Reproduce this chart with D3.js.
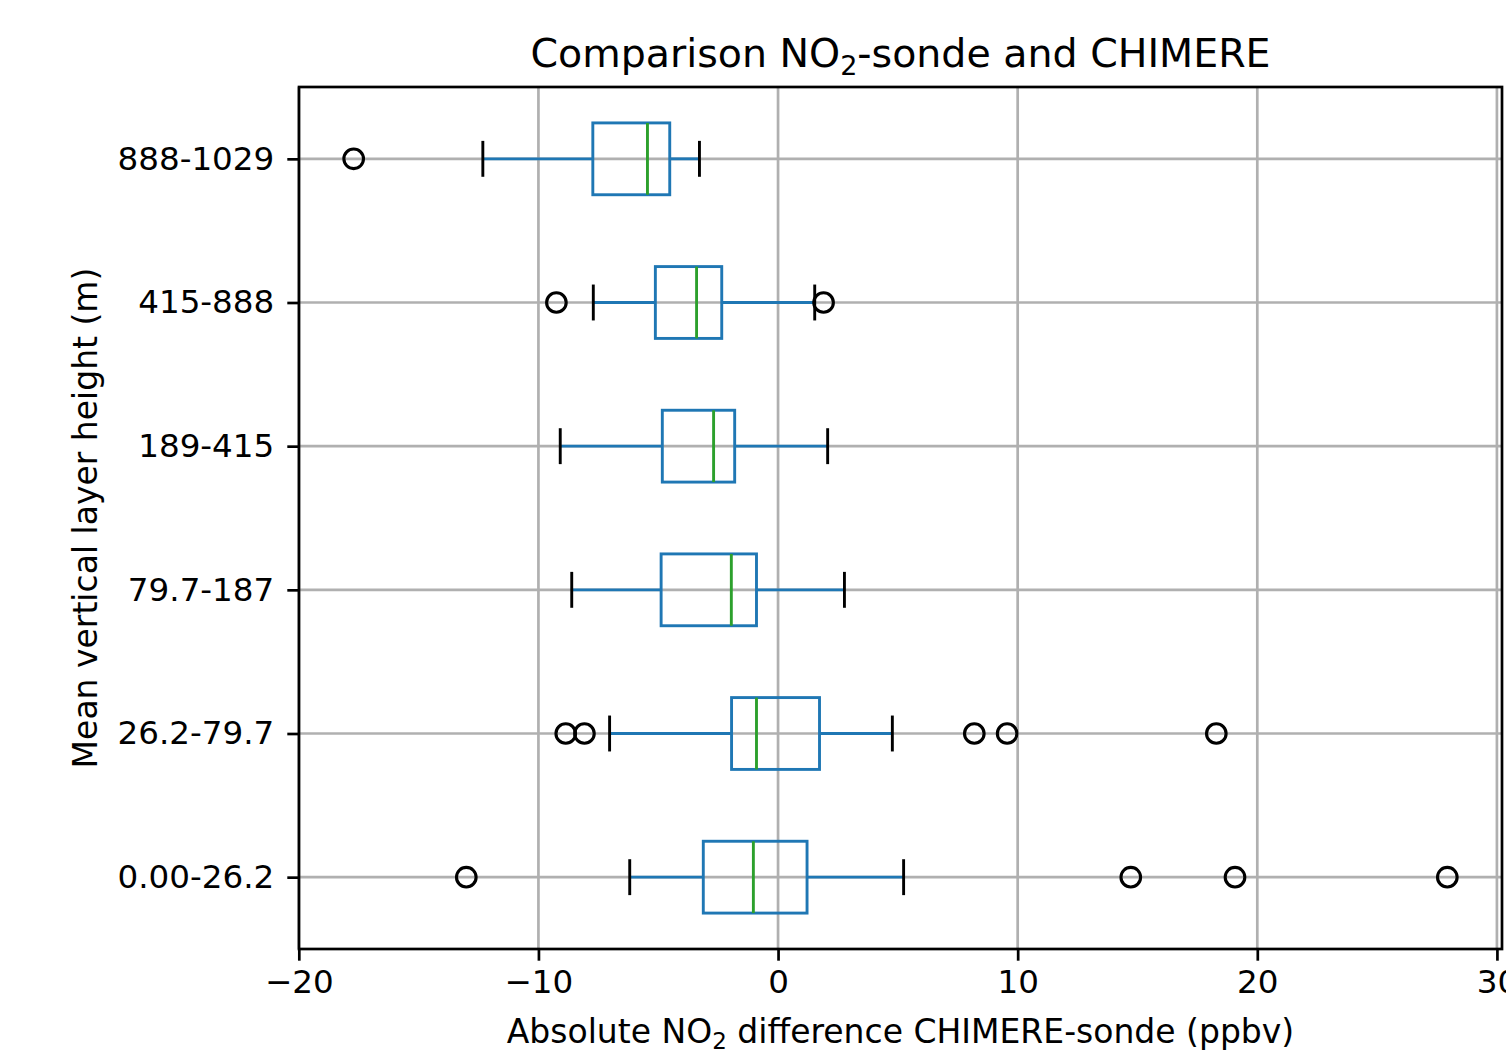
<!DOCTYPE html>
<html>
<head>
<meta charset="utf-8">
<script src="https://cdn.jsdelivr.net/npm/d3@7"></script>
<style>
  body { margin: 0; background: #fff; }
  svg { display: block; font-family: "DejaVu Sans", sans-serif; }
</style>
</head>
<body>
<div class="chart"></div>
<script>
// layer categories, bottom to top
const categories = ["0.00-26.2", "26.2-79.7", "79.7-187", "189-415", "415-888", "888-1029"];
// box statistics (ppbv)
const whiskerLow = [-6.19, -7.03, -8.61, -9.09, -7.71, -12.32];
const q1 = [-3.12, -1.94, -4.88, -4.83, -5.12, -7.73];
const median = [-1.03, -0.9, -1.95, -2.69, -3.4, -5.45];
const q3 = [1.21, 1.73, -0.9, -1.81, -2.35, -4.52];
const whiskerHigh = [5.24, 4.77, 2.77, 2.07, 1.53, -3.28];
const outliers = [
  [-13.01, 14.72, 19.07, 27.93],
  [-8.86, -8.08, 8.19, 9.56, 18.29],
  [],
  [],
  [-9.25, 1.9],
  [-17.71]
];
const xTicks = [-20, -10, 0, 10, 20, 30];

const W = 1506, H = 1052;
const margin = { top: 87, right: 4, bottom: 103, left: 299 };

const svg = d3.select(".chart")
  .append("svg")
  .attr("width", W)
  .attr("height", H);

// x limits like matplotlib: data range plus 5% each side
const allVals = whiskerLow.concat(whiskerHigh, outliers.flat());
const lo = d3.min(allVals), hi = d3.max(allVals);
const pad = (hi - lo) * 0.05;

const x = d3.scaleLinear().domain([lo - pad, hi + pad]).range([margin.left, W - margin.right]);
const y = d3.scaleLinear().domain([0.5, categories.length + 0.5]).range([H - margin.bottom, margin.top]);

const gridColor = "#b0b0b0";
const lw = 2.9;

// ---- grid ----
const grid = svg.append("g");
grid.selectAll(".gx")
  .data(xTicks.filter((d) => x(d) <= W - margin.right))
  .enter().append("line")
  .attr("x1", (d) => x(d)).attr("x2", (d) => x(d))
  .attr("y1", margin.top).attr("y2", H - margin.bottom)
  .attr("stroke", gridColor).attr("stroke-width", 2.7);
grid.selectAll(".gy")
  .data(categories)
  .enter().append("line")
  .attr("x1", margin.left).attr("x2", W - margin.right)
  .attr("y1", (d, i) => y(i + 1)).attr("y2", (d, i) => y(i + 1))
  .attr("stroke", gridColor).attr("stroke-width", 2.7);

// ---- boxes ----
const boxH = y(0) - y(0.5);   // widths 0.5
const capH = y(0) - y(0.25);
const blue = "#1f77b4", green = "#2ca02c";
const g = svg.append("g");

categories.forEach((c, i) => {
  const cy = y(i + 1);
  // whiskers
  g.append("line").attr("x1", x(whiskerLow[i])).attr("x2", x(q1[i]))
    .attr("y1", cy).attr("y2", cy).attr("stroke", blue).attr("stroke-width", lw);
  g.append("line").attr("x1", x(q3[i])).attr("x2", x(whiskerHigh[i]))
    .attr("y1", cy).attr("y2", cy).attr("stroke", blue).attr("stroke-width", lw);
  // caps
  [whiskerLow[i], whiskerHigh[i]].forEach((v) => {
    g.append("line").attr("x1", x(v)).attr("x2", x(v))
      .attr("y1", cy - capH / 2).attr("y2", cy + capH / 2)
      .attr("stroke", "#000").attr("stroke-width", lw);
  });
  // box
  g.append("rect")
    .attr("x", x(q1[i])).attr("y", cy - boxH / 2)
    .attr("width", x(q3[i]) - x(q1[i])).attr("height", boxH)
    .attr("fill", "none").attr("stroke", blue).attr("stroke-width", lw);
  // median
  g.append("line").attr("x1", x(median[i])).attr("x2", x(median[i]))
    .attr("y1", cy - boxH / 2).attr("y2", cy + boxH / 2)
    .attr("stroke", green).attr("stroke-width", lw);
  // fliers
  g.selectAll(".flier" + i)
    .data(outliers[i])
    .enter().append("circle")
    .attr("cx", (d) => x(d)).attr("cy", cy).attr("r", 9.8)
    .attr("fill", "none").attr("stroke", "#000").attr("stroke-width", 3.1);
});

// ---- axes ----
const fmt = (d) => (d < 0 ? "\u2212" + Math.abs(d) : String(d));
const xAxis = svg.append("g")
  .attr("transform", "translate(0," + (H - margin.bottom) + ")")
  .call(d3.axisBottom(x).tickValues(xTicks).tickFormat(fmt).tickSize(11.7).tickPadding(9).tickSizeOuter(0));
const yAxis = svg.append("g")
  .attr("transform", "translate(" + margin.left + ",0)")
  .call(d3.axisLeft(y).tickValues(d3.range(1, categories.length + 1))
    .tickFormat((d) => categories[d - 1]).tickSize(11.7).tickPadding(13).tickSizeOuter(0));
[xAxis, yAxis].forEach((a) => {
  a.select(".domain").remove();
  a.selectAll("line").attr("stroke", "#000").attr("stroke-width", 2.7);
  a.selectAll("text").attr("fill", "#000")
    .style("font-family", "DejaVu Sans").style("font-size", "32.6px");
});

// frame
svg.append("rect")
  .attr("x", margin.left).attr("y", margin.top)
  .attr("width", W - margin.right - margin.left)
  .attr("height", H - margin.bottom - margin.top)
  .attr("fill", "none").attr("stroke", "#000").attr("stroke-width", 2.7);

// ---- labels ----
const cx = (margin.left + W - margin.right) / 2;
const title = svg.append("text")
  .attr("x", cx).attr("y", 67).attr("text-anchor", "middle")
  .style("font-size", "39.5px");
title.append("tspan").text("Comparison NO");
title.append("tspan").attr("dy", 8).style("font-size", "27px").text("2");
title.append("tspan").attr("dy", -8).text("-sonde and CHIMERE");

const xl = svg.append("text")
  .attr("x", cx).attr("y", 1043).attr("text-anchor", "middle")
  .style("font-size", "33px");
xl.append("tspan").text("Absolute NO");
xl.append("tspan").attr("dy", 6).style("font-size", "23px").text("2");
xl.append("tspan").attr("dy", -6).text(" difference CHIMERE-sonde (ppbv)");

svg.append("text")
  .attr("transform", "translate(97," + (margin.top + H - margin.bottom) / 2 + ") rotate(-90)")
  .attr("text-anchor", "middle")
  .style("font-size", "33px")
  .text("Mean vertical layer height (m)");
</script>
</body>
</html>
